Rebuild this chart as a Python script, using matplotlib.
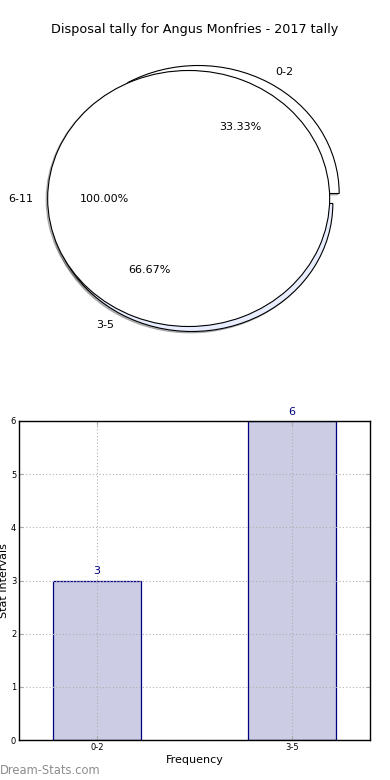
import matplotlib
matplotlib.use('Agg')
import matplotlib.pyplot as plt
import matplotlib.patches as mpatches
import numpy as np

# pie data (cumulative shares, drawn unnormalised like the original)
pie_labels = ['0-2', '3-5', '6-11']
pie_values = [1 / 3, 2 / 3, 1.0]
pie_colors = ['#ffffff', '#e8eeff', '#ffffff']
pie_explode = [0.045, 0.045, 0.045]

# bar data
bar_labels = ['0-2', '3-5']
bar_values = [3, 6]

fig = plt.figure(figsize=(3.9, 7.8), dpi=100)
fig.patch.set_facecolor('white')

fig.text(0.5, 1 - 30 / 780, 'Disposal tally for Angus Monfries - 2017 tally',
         ha='center', va='center', fontsize=9.2)

# pie chart - newer matplotlib refuses sum(x) > 1 with normalize=False,
# so build the wedges the same way pie() would
ax1 = fig.add_axes([0, 1 - 360 / 780, 1, 320 / 780])
theta1 = 0.0
for label, frac, col, expl in zip(pie_labels, pie_values, pie_colors, pie_explode):
    theta2 = theta1 + frac
    thetam = 2 * np.pi * 0.5 * (theta1 + theta2)
    cx = expl * np.cos(thetam)
    cy = expl * np.sin(thetam)
    w = mpatches.Wedge((cx, cy), 1, 360 * theta1, 360 * theta2,
                       facecolor=col, edgecolor='black', linewidth=0.8)
    ax1.add_patch(w)
    shad = mpatches.Shadow(w, -0.008, -0.008, alpha=0.35)
    ax1.add_patch(shad)
    xt = cx + 1.1 * np.cos(thetam)
    yt = cy + 1.1 * np.sin(thetam)
    ax1.text(xt, yt, label, ha='left' if xt > 0 else 'right', va='center', fontsize=8)
    xp = cx + 0.6 * np.cos(thetam)
    yp = cy + 0.6 * np.sin(thetam)
    ax1.text(xp, yp, '%1.2f%%' % (100 * frac), ha='center', va='center', fontsize=8)
    theta1 = theta2
ax1.set_xlim(-195 / 141, 195 / 141)
ax1.set_ylim(-161.5 / 128, 158.5 / 128)
ax1.axis('off')

# bar chart
ax2 = fig.add_axes([19 / 390, 1 - 740 / 780, 351 / 390, 319 / 780])
x_pos = np.arange(len(bar_labels))
bars = ax2.bar(x_pos, bar_values, width=0.45, color='#ccccE5',
               edgecolor='navy', linewidth=0.9, zorder=2)
for rect, v in zip(bars, bar_values):
    ax2.text(rect.get_x() + rect.get_width() / 2, v + 0.08, str(v),
             ha='center', va='bottom', fontsize=8, color='navy')

ax2.set_xlim(-0.4, 1.4)
ax2.set_ylim(0, 6)
ax2.set_xticks(x_pos)
ax2.set_xticklabels(bar_labels)
ax2.set_yticks(range(0, 7))
ax2.tick_params(axis='both', direction='in', labelsize=6, top=True, right=True,
                length=3, color='#aaaaaa', pad=2)
ax2.grid(True, linestyle=(0, (1, 2)), color='#b0b0b0', linewidth=0.8, zorder=3)
ax2.set_axisbelow(False)
for s in ax2.spines.values():
    s.set_linewidth(1.0)
    s.set_color('black')
    s.set_zorder(4)
ax2.set_xlabel('Frequency', fontsize=8, labelpad=2)
ax2.set_ylabel('Stat Intervals', fontsize=8, labelpad=1)

fig.text(0.0, 1 - 770 / 780, 'Dream-Stats.com', ha='left', va='center',
         fontsize=8.3, color='#8c8c8c')

fig.savefig('out.png', dpi=100)
